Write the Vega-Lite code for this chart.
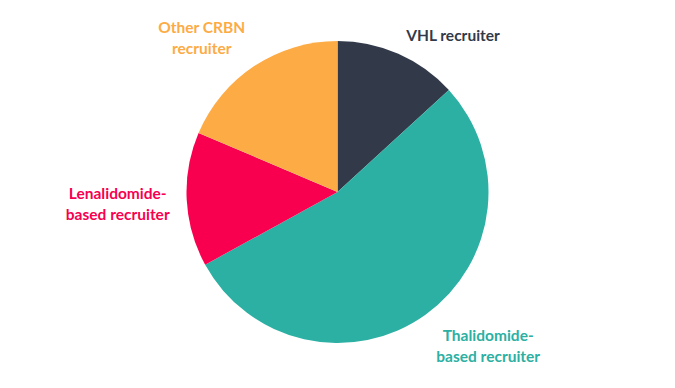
{
  "$schema": "https://vega.github.io/schema/vega-lite/v6.json",
  "autosize": {"type": "fit", "contains": "padding"},
  "width": 675,
  "height": 388,
  "padding": {"top": 0, "left": 0, "right": 0, "bottom": 4},
  "background": "white",
  "view": {"stroke": null},
  "data": {
    "values": [
      {"key": "VHL", "label": "VHL recruiter", "value": 13.2, "order": 1},
      {"key": "Thal", "label": "Thalidomide-\nbased recruiter", "value": 53.8, "order": 2},
      {"key": "Lena", "label": "Lenalidomide-\nbased recruiter", "value": 14.4, "order": 3},
      {"key": "Other", "label": "Other CRBN\nrecruiter", "value": 18.6, "order": 4}
    ]
  },
  "encoding": {
    "theta": {"field": "value", "type": "quantitative", "stack": true},
    "order": {"field": "order", "type": "quantitative"},
    "color": {
      "field": "key",
      "type": "nominal",
      "scale": {"domain": ["VHL", "Thal", "Lena", "Other"], "range": ["#323A4A", "#2BB0A3", "#F8004F", "#FDAB45"]},
      "legend": null
    }
  },
  "layer": [
    {"mark": {"type": "arc", "outerRadius": 151, "stroke": null}},
    {
      "mark": {"type": "text", "radius": 190, "dx": 39, "dy": 18, "font": "Lato", "fontWeight": "bold", "fontSize": 15.5, "lineBreak": "\n", "lineHeight": 21, "align": "center", "baseline": "middle"},
      "encoding": {"text": {"condition": {"test": "datum.key === 'VHL'", "field": "label"}, "value": ""}}
    },
    {
      "mark": {"type": "text", "radius": 190, "dx": 40, "dy": -10, "font": "Lato", "fontWeight": "bold", "fontSize": 15.5, "lineBreak": "\n", "lineHeight": 21, "align": "center", "baseline": "middle"},
      "encoding": {"text": {"condition": {"test": "datum.key === 'Thal'", "field": "label"}, "value": ""}}
    },
    {
      "mark": {"type": "text", "radius": 190, "dx": -30, "dy": -8, "font": "Lato", "fontWeight": "bold", "fontSize": 15.5, "lineBreak": "\n", "lineHeight": 21, "align": "center", "baseline": "middle"},
      "encoding": {"text": {"condition": {"test": "datum.key === 'Lena'", "field": "label"}, "value": ""}}
    },
    {
      "mark": {"type": "text", "radius": 190, "dx": -31, "dy": -6, "font": "Lato", "fontWeight": "bold", "fontSize": 15.5, "lineBreak": "\n", "lineHeight": 21, "align": "center", "baseline": "middle"},
      "encoding": {"text": {"condition": {"test": "datum.key === 'Other'", "field": "label"}, "value": ""}}
    }
  ]
}
